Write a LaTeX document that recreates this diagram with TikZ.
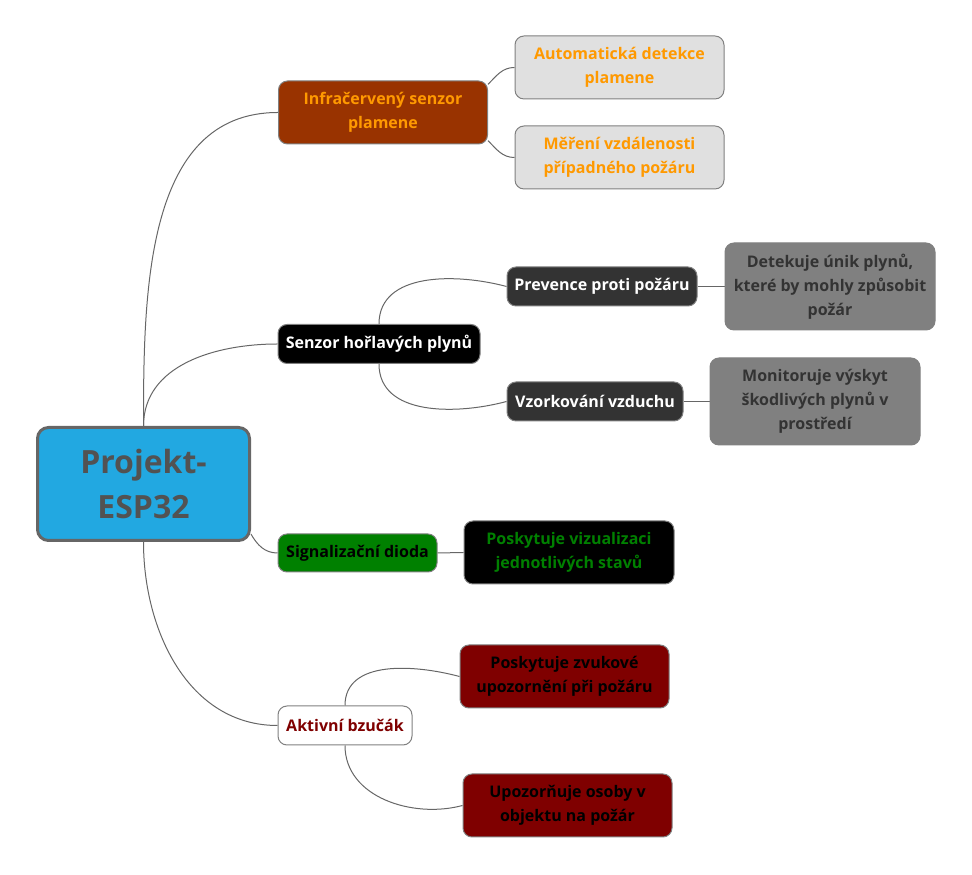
\documentclass[tikz,border=0pt]{standalone}
\usepackage{fontspec}
\setmainfont{Open Sans}
\usetikzlibrary{positioning,calc,backgrounds}
\definecolor{rootblue}{HTML}{22A8E1}
\definecolor{rust}{HTML}{993300}
\definecolor{flame}{HTML}{FF9900}
\definecolor{lightgray}{HTML}{E0E0E0}
\definecolor{darkgray}{HTML}{333333}
\definecolor{midgray}{HTML}{808080}
\definecolor{wire}{HTML}{666666}
\definecolor{ledgreen}{HTML}{008000}
\definecolor{maroon}{HTML}{7F0000}
\begin{document}
\begin{tikzpicture}[x=1pt,y=1pt,
  box/.style={draw=midgray,line width=1pt,rounded corners=9pt,align=center,
    inner sep=3pt,font=\bfseries\fontsize{16}{24}\selectfont},
  root/.style={box,draw=wire,line width=3pt,rounded corners=11pt,fill=rootblue,
    text=darkgray!85!white,font=\bfseries\fontsize{32}{45}\selectfont,
    minimum width=212pt,minimum height=113pt},
  twoline/.style={minimum width=209pt,minimum height=63pt},
  oneline/.style={minimum height=39pt},
  wire/.style={draw=wire,line width=1pt}]
\useasboundingbox (0,0) rectangle (972,875);
% root and main branches
\node[root] (projekt) at (143.5,391) {Projekt-\\ESP32};
\node[box,twoline,fill=rust,text=flame] (infra) at (383,762.5) {Infračervený senzor\\plamene};
\node[box,oneline,minimum width=202pt,fill=black,text=white] (senzor) at (379,531) {Senzor hořlavých plynů};
\node[box,oneline,minimum width=159pt,minimum height=38pt,fill=ledgreen,text=black] (dioda) at (357.5,322) {Signalizační dioda};
\node[box,oneline,minimum width=134pt,fill=white,text=maroon] (bzucak) at (345,149.5) {Aktivní bzučák};
% leaves
\node[box,twoline,fill=lightgray,text=flame] (detekce) at (619.5,807.5) {Automatická detekce\\plamene};
\node[box,twoline,fill=lightgray,text=flame] (mereni) at (619.5,717.5) {Měření vzdálenosti\\případného požáru};
\node[box,oneline,minimum width=190pt,fill=darkgray,text=white] (prevence) at (602,588.5) {Prevence proti požáru};
\node[box,minimum width=210pt,minimum height=87pt,fill=midgray,text=darkgray] (unik) at (830,588.5) {Detekuje únik plynů,\\které by mohly způsobit\\požár};
\node[box,oneline,minimum width=176pt,fill=darkgray,text=white] (vzorek) at (595,473.5) {Vzorkování vzduchu};
\node[box,minimum width=210pt,minimum height=87pt,fill=midgray,text=darkgray] (vyskyt) at (815,473.5) {Monitoruje výskyt\\škodlivých plynů v\\prostředí};
\node[box,twoline,minimum width=210pt,fill=black,text=ledgreen] (stavy) at (569,322.5) {Poskytuje vizualizaci\\jednotlivých stavů};
\node[box,twoline,fill=maroon,text=black] (zvuk) at (564.5,198.5) {Poskytuje zvukové\\upozornění při požáru};
\node[box,twoline,fill=maroon,text=black] (osoby) at (567.5,69.5) {Upozorňuje osoby v\\objektu na požár};
\begin{scope}[on background layer]
\draw[wire] (projekt.north) to[out=90,in=180] (infra.west);
\draw[wire] (projekt.north) to[out=90,in=180] (senzor.west);
\draw[wire] (projekt.-25) to[out=-60,in=180] (dioda.west);
\draw[wire] (projekt.south) to[out=-90,in=180] (bzucak.west);
\draw[wire] (infra.15) to[out=45,in=180] (detekce.west);
\draw[wire] (infra.-15) to[out=-45,in=180] (mereni.west);
\draw[wire] (senzor.north) to[out=90,in=165] (prevence.west);
\draw[wire] (senzor.south) to[out=-90,in=195] (vzorek.west);
\draw[wire] (prevence.east) -- (unik.west);
\draw[wire] (vzorek.east) -- (vyskyt.west);
\draw[wire] (dioda.east) -- (stavy.west);
\draw[wire] (bzucak.north) to[out=90,in=165] (zvuk.west);
\draw[wire] (bzucak.south) to[out=-90,in=195] (osoby.west);
\end{scope}
\end{tikzpicture}
\end{document}
